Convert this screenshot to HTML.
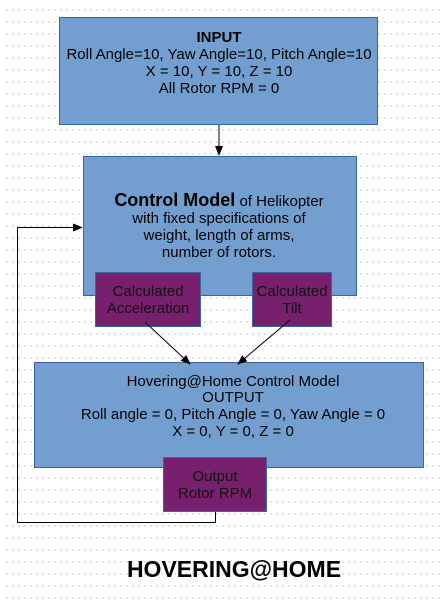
<!DOCTYPE html>
<html><head><meta charset="utf-8"><style>
html,body{margin:0;padding:0;background:#fff}
body{width:446px;height:610px;overflow:hidden;position:relative;font-family:"Liberation Sans",sans-serif}
.grid{position:absolute;left:4px;top:4px;width:438px;height:602px;background-image:radial-gradient(circle,#c8c8c8 0.7px,transparent 0.9px);background-size:6px 12px}
</style></head><body>
<div class="grid"></div>
<svg width="446" height="610" style="position:absolute;left:0;top:0" font-family="Liberation Sans, sans-serif">
<defs><marker id="a" markerWidth="10" markerHeight="8" refX="9" refY="4" orient="auto" markerUnits="userSpaceOnUse"><path d="M0,0 L10,4 L0,8 z" fill="#000"/></marker></defs>
<rect x="59.5" y="17.5" width="318" height="107" fill="#729fcf" stroke="#3465a4"/>
<text text-anchor="middle" font-size="15" fill="#000"><tspan x="219" y="42" font-weight="bold">INPUT</tspan><tspan x="219" y="59">Roll Angle=10, Yaw Angle=10, Pitch Angle=10</tspan><tspan x="219" y="76">X = 10, Y = 10, Z = 10</tspan><tspan x="219" y="93">All Rotor RPM = 0</tspan></text>
<line x1="219" y1="125" x2="219" y2="155" stroke="#000" marker-end="url(#a)"/>
<rect x="83.5" y="156.5" width="273" height="139" fill="#729fcf" stroke="#3465a4"/>
<text text-anchor="middle" font-size="15" fill="#000"><tspan x="219" y="206"><tspan font-weight="bold" font-size="18">Control Model</tspan> of Helikopter</tspan><tspan x="219" y="223">with fixed specifications of</tspan><tspan x="219" y="240">weight, length of arms,</tspan><tspan x="219" y="257">number of rotors.</tspan></text>
<rect x="95.5" y="272.5" width="105" height="54" fill="#77206d" stroke="#3465a4"/>
<text text-anchor="middle" font-size="15" fill="#111"><tspan x="148" y="296">Calculated</tspan><tspan x="148" y="313">Acceleration</tspan></text>
<rect x="252.5" y="272.5" width="79" height="54" fill="#77206d" stroke="#3465a4"/>
<text text-anchor="middle" font-size="15" fill="#111"><tspan x="292" y="296">Calculated</tspan><tspan x="292" y="313">Tilt</tspan></text>
<rect x="34.5" y="362.5" width="389" height="105" fill="#729fcf" stroke="#3465a4"/>
<text text-anchor="middle" font-size="15" fill="#000"><tspan x="233" y="386">Hovering@Home Control Model</tspan><tspan x="233" y="402">OUTPUT</tspan><tspan x="233" y="419">Roll angle = 0, Pitch Angle = 0,  Yaw Angle = 0</tspan><tspan x="233" y="436">X = 0, Y = 0, Z = 0</tspan></text>
<line x1="145" y1="322" x2="190" y2="364" stroke="#000" marker-end="url(#a)"/>
<line x1="290" y1="320" x2="238" y2="364" stroke="#000" marker-end="url(#a)"/>
<rect x="163.5" y="457.5" width="103" height="54" fill="#77206d" stroke="#3465a4"/>
<text text-anchor="middle" font-size="15" fill="#111"><tspan x="215" y="481">Output</tspan><tspan x="215" y="498">Rotor RPM</tspan></text>
<polyline points="215.5,512 215.5,522.5 17.5,522.5 17.5,227.5 82,227.5" fill="none" stroke="#000" marker-end="url(#a)"/>
<text x="234" y="577" text-anchor="middle" font-size="23" font-weight="bold" fill="#000">HOVERING@HOME</text>
</svg>
</body></html>
